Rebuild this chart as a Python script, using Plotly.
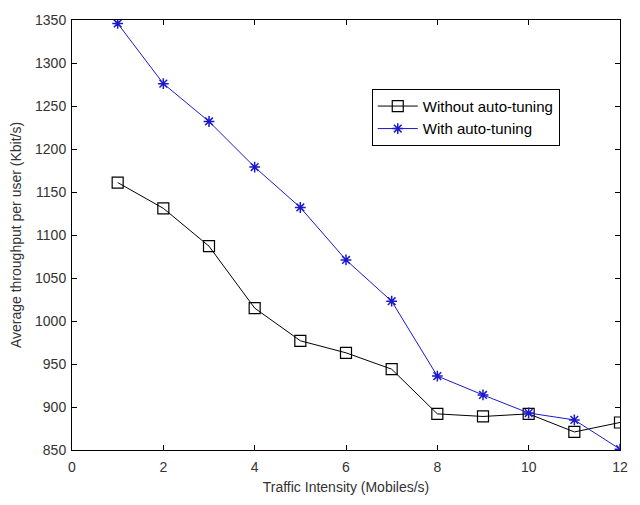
import plotly.graph_objects as go

x_vals = [1, 2, 3, 4, 5, 6, 7, 8, 9, 10, 11, 12]
without_tuning = [1161, 1131, 1087, 1015, 977, 963, 944, 892, 889, 892, 871, 882]
with_tuning = [1346, 1276, 1232, 1179, 1132, 1071, 1023, 936, 914, 893, 885, 851]

x_ticks = [0, 2, 4, 6, 8, 10, 12]
y_ticks = [850, 900, 950, 1000, 1050, 1100, 1150, 1200, 1250, 1300, 1350]

font = "Liberation Sans, Arial, sans-serif"

fig = go.Figure()
fig.add_trace(go.Scatter(
    x=x_vals, y=without_tuning, mode="lines+markers", name="Without auto-tuning",
    line=dict(color="black", width=1),
    marker=dict(symbol="square-open", size=11, color="black", line=dict(width=1.2)),
))
fig.add_trace(go.Scatter(
    x=x_vals, y=with_tuning, mode="lines+markers", name="With auto-tuning",
    line=dict(color="#1a1acc", width=1),
    marker=dict(symbol="asterisk-open", size=9, color="#1a1acc", line=dict(width=1.5, color="#1a1acc")),
))

axis_common = dict(
    showline=True, linecolor="black", linewidth=1, mirror="ticks",
    ticks="inside", ticklen=5, tickcolor="black", showgrid=False, zeroline=False,
    tickfont=dict(family=font, size=14, color="#333333"),
)

fig.update_layout(
    width=640, height=505,
    margin=dict(l=72, r=16, t=17, b=53),
    paper_bgcolor="white", plot_bgcolor="white",
    font=dict(family=font, size=14, color="#333333"),
    xaxis=dict(range=[0, 12], tickvals=x_ticks, ticklabelstandoff=4, **axis_common,
               title=dict(text="Traffic Intensity (Mobiles/s)", font=dict(size=14), standoff=8)),
    yaxis=dict(range=[850, 1350], tickvals=y_ticks, ticklabelstandoff=2, **axis_common,
               title=dict(text="Average throughput per user (Kbit/s)", font=dict(size=14), standoff=10)),
    legend=dict(x=0.547, y=0.84, xanchor="left", yanchor="top",
                bordercolor="black", borderwidth=1, bgcolor="white",
                font=dict(family=font, size=15, color="black"),
                tracegroupgap=0, itemwidth=40),
    showlegend=True,
)

fig.write_html("out.html")
